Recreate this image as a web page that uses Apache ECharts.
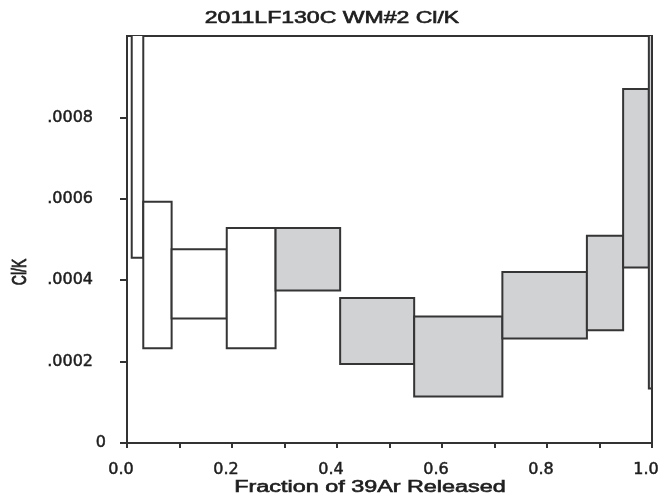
<!DOCTYPE html>
<html>
<head>
<meta charset="utf-8">
<script src="https://cdn.jsdelivr.net/npm/echarts@6/dist/echarts.min.js"></script>
<style>
  html, body { margin: 0; padding: 0; background: #fff; }
  #chart { width: 666px; height: 502px; }
</style>
</head>
<body>
<div id="chart"></div>
<script>
// Step-heating spectrum: each step spans a range of cumulative 39Ar fraction
// and a Cl/K band (low..high). Shaded steps are the plateau steps.
const stepFrom  = [0.009, 0.031, 0.085, 0.190, 0.283, 0.406, 0.547, 0.715, 0.876, 0.945, 0.994];
const stepTo    = [0.031, 0.085, 0.190, 0.283, 0.406, 0.547, 0.715, 0.876, 0.945, 0.994, 1.000];
const clkLow    = [0.000455, 0.000233, 0.000306, 0.000233, 0.000375, 0.000194, 0.000114, 0.000257, 0.000277, 0.000431, 0.000134];
const clkHigh   = [0.00120, 0.000593, 0.000476, 0.000528, 0.000528, 0.000356, 0.000311, 0.000420, 0.000509, 0.000870, 0.00120];
const plateau   = [0, 0, 0, 0, 1, 1, 1, 1, 1, 1, 1];

const yTickValues = [0, 0.0002, 0.0004, 0.0006, 0.0008];
const xLabelValues = [0, 0.2, 0.4, 0.6, 0.8, 1.0];

const titleText = '2011LF130C WM#2 Cl/K';
const xName = 'Fraction of 39Ar Released';
const yName = 'Cl/K';

const stepData = stepFrom.map((x0, i) => [x0, stepTo[i], clkLow[i], clkHigh[i], plateau[i]]);

const ink = '#1e1e1e';
const boxStroke = '#353535';
const plateauFill = '#d1d2d4';
const tickFont = 'DejaVu Sans';
// a thin outline gives the labels a medium weight
const labelStyle = {
  color: ink, fontFamily: tickFont, fontSize: 16,
  textBorderColor: ink, textBorderWidth: 0.5
};

const chart = echarts.init(document.getElementById('chart'), null, { renderer: 'canvas' });

chart.setOption({
  animation: false,
  backgroundColor: '#ffffff',
  grid: {
    left: 127, right: 14, top: 36, bottom: 59,
    show: true, borderColor: '#333', borderWidth: 2, backgroundColor: 'transparent'
  },
  xAxis: {
    type: 'value', min: 0, max: 1, interval: 0.1,
    axisLine: { show: true, onZero: false, lineStyle: { color: '#333', width: 2 } },
    axisTick: { show: true, length: 5, lineStyle: { color: '#333', width: 2 } },
    splitLine: { show: false },
    axisLabel: Object.assign({
      customValues: xLabelValues,
      margin: 19,
      padding: [0, 12, 0, 0],
      formatter: v => v.toFixed(1)
    }, labelStyle)
  },
  yAxis: {
    type: 'value', min: 0, max: 0.001, interval: 0.0002,
    axisLine: { show: true, onZero: false, lineStyle: { color: '#333', width: 2 } },
    axisTick: { show: true, length: 7, customValues: yTickValues, lineStyle: { color: '#333', width: 2 } },
    splitLine: { show: false },
    axisLabel: Object.assign({
      customValues: yTickValues,
      margin: 21,
      formatter: v => v === 0 ? '{z|0}' : '{d|' + v.toFixed(4).replace(/^0/, '') + '}',
      rich: {
        z: Object.assign({}, labelStyle),
        d: Object.assign({ padding: [0, 13, 0, 0] }, labelStyle)
      }
    }, labelStyle)
  },
  graphic: [
    {
      type: 'text', x: 332, y: 19, scaleX: 1.44,
      style: { text: titleText, fill: ink, stroke: ink, lineWidth: 0.6, font: '16px "Liberation Sans"', align: 'center', verticalAlign: 'middle' }
    },
    {
      type: 'text', x: 370, y: 488, scaleX: 1.46,
      style: { text: xName, fill: ink, stroke: ink, lineWidth: 0.6, font: '16px "Liberation Sans"', align: 'center', verticalAlign: 'middle' }
    },
    {
      type: 'text', x: 20, y: 272, rotation: Math.PI / 2, scaleY: 1.45,
      style: { text: yName, fill: ink, stroke: ink, lineWidth: 0.6, font: '14px "Liberation Sans"', align: 'center', verticalAlign: 'middle' }
    }
  ],
  series: [{
    type: 'custom',
    clip: true,
    data: stepData,
    encode: { x: [0, 1], y: [2, 3] },
    renderItem: function (params, api) {
      const topLeft = api.coord([api.value(0), api.value(3)]);
      const bottomRight = api.coord([api.value(1), api.value(2)]);
      return {
        type: 'rect',
        shape: {
          x: topLeft[0], y: topLeft[1],
          width: bottomRight[0] - topLeft[0],
          height: bottomRight[1] - topLeft[1]
        },
        style: {
          fill: api.value(4) ? plateauFill : '#ffffff',
          stroke: boxStroke,
          lineWidth: 2
        }
      };
    }
  }]
});
</script>
</body>
</html>
